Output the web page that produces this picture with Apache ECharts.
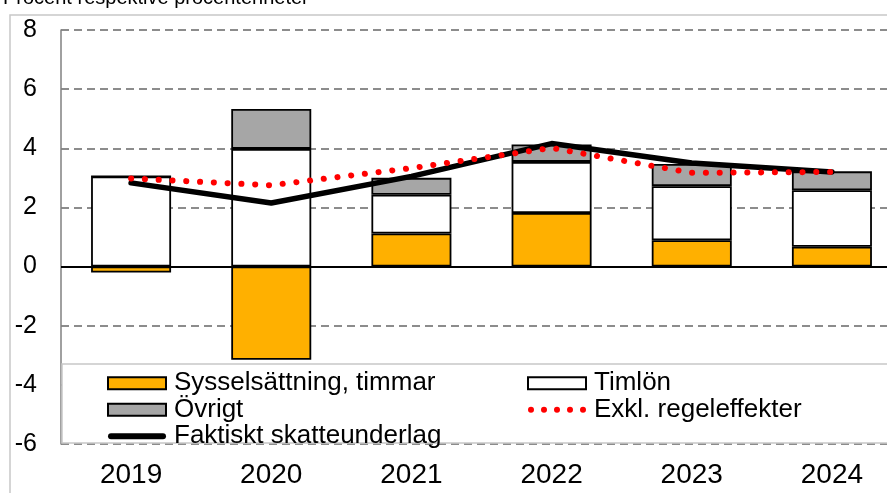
<!DOCTYPE html>
<html>
<head>
<meta charset="utf-8">
<script src="https://cdn.jsdelivr.net/npm/echarts@6/dist/echarts.min.js"></script>
<style>
  html, body { margin: 0; padding: 0; background: #fff; }
  #main { width: 887px; height: 493px; }
</style>
</head>
<body>
<div id="main"></div>
<script>
// kategorier och värden (procent respektive procentenheter)
const years = ["2019", "2020", "2021", "2022", "2023", "2024"];
const sysselsattning = [-0.2, -3.15, 1.12, 1.81, 0.89, 0.67];
const timlon = [3.05, 3.98, 1.31, 1.73, 1.83, 1.91];
const ovrigt = [0, 1.35, 0.57, 0.59, 0.75, 0.64];
const faktiskt = [2.83, 2.15, 3.05, 4.16, 3.5, 3.2];
const exklRegel = [2.98, 2.75, 3.33, 4.01, 3.17, 3.2];

const font = "Liberation Sans, Arial, sans-serif";
const chart = echarts.init(document.getElementById("main"));

const barStyle = (color) => ({
  color: color,
  borderColor: "#000",
  borderWidth: 1.8,
});

// legendikoner: tjock linje och prickad linje (M0,0 M58,12 håller rutans storlek)
const thickLineIcon = "path://M0,0M58,12M3,3L55,3A3,3,0,0,1,55,9L3,9A3,3,0,0,1,3,3Z";
const dotsIcon = "path://M0,0M58,12" + [3, 16, 29, 42, 55]
  .map((cx) => `M${cx - 3},6A3,3,0,1,0,${cx + 3},6A3,3,0,1,0,${cx - 3},6Z`)
  .join("");

const legendText = { fontFamily: font, fontSize: 26, lineHeight: 26.5, color: "#000", padding: [0, 0, 0, 3] };

chart.setOption({
  animation: false,
  textStyle: { fontFamily: font, color: "#000" },
  title: {
    text: "Procent respektive procentenheter",
    left: -2,
    top: -17,
    textStyle: { fontFamily: font, fontSize: 20, fontWeight: "normal", color: "#000" },
  },
  grid: { left: 61, top: 30, width: 841, bottom: 49, outerBoundsMode: "none" },
  graphic: [
    {
      type: "rect",
      z: 1,
      shape: { x: 10, y: 15, width: 900, height: 520 },
      style: { fill: null, stroke: "#c8c8c8", lineWidth: 1.5 },
    },
    {
      type: "rect",
      z: 3,
      shape: { x: 62, y: 364, width: 840, height: 79 },
      style: { fill: "#fff", stroke: "#c8c8c8", lineWidth: 1.5 },
    },
  ],
  legend: [
    {
      left: 102,
      top: 365,
      orient: "vertical",
      itemWidth: 58,
      itemHeight: 12,
      itemGap: 0,
      textStyle: legendText,
      data: [
        { name: "Sysselsättning, timmar", icon: "rect" },
        { name: "Övrigt", icon: "rect" },
        { name: "Faktiskt skatteunderlag", icon: thickLineIcon },
      ],
    },
    {
      left: 522,
      top: 365,
      orient: "vertical",
      itemWidth: 58,
      itemHeight: 12,
      itemGap: 0,
      textStyle: legendText,
      data: [
        { name: "Timlön", icon: "rect" },
        { name: "Exkl. regeleffekter", icon: dotsIcon },
      ],
    },
  ],
  xAxis: {
    type: "category",
    data: years,
    axisLine: { show: false },
    axisTick: { show: false },
    axisLabel: { fontSize: 28, color: "#000", margin: 17 },
  },
  yAxis: {
    type: "value",
    min: -6,
    max: 8,
    interval: 2,
    axisLine: { show: true, lineStyle: { color: "#808080", width: 1.5 } },
    axisTick: { show: false },
    axisLabel: { fontSize: 25, color: "#000", margin: 24 },
    splitLine: { lineStyle: { color: "#8c8c8c", width: 2, type: [8, 5] } },
  },
  series: [
    {
      name: "Sysselsättning, timmar",
      type: "bar",
      stack: "bidrag",
      barWidth: 80,
      itemStyle: barStyle("#ffb000"),
      data: sysselsattning,
      markLine: {
        silent: true,
        symbol: "none",
        label: { show: false },
        lineStyle: { color: "#000", width: 2, type: "solid" },
        data: [{ yAxis: 0 }],
      },
    },
    {
      name: "Timlön",
      type: "bar",
      stack: "bidrag",
      barWidth: 80,
      itemStyle: barStyle("#ffffff"),
      data: timlon,
    },
    {
      name: "Övrigt",
      type: "bar",
      stack: "bidrag",
      barWidth: 80,
      itemStyle: barStyle("#a6a6a6"),
      data: ovrigt,
    },
    {
      name: "Faktiskt skatteunderlag",
      type: "line",
      symbol: "none",
      color: "#000",
      lineStyle: { color: "#000", width: 5.5, cap: "round" },
      data: faktiskt,
    },
    {
      name: "Exkl. regeleffekter",
      type: "line",
      symbol: "none",
      color: "#ff0000",
      lineStyle: { color: "#ff0000", width: 6, type: [0.1, 13.7], cap: "round" },
      data: exklRegel,
    },
  ],
});
</script>
</body>
</html>
